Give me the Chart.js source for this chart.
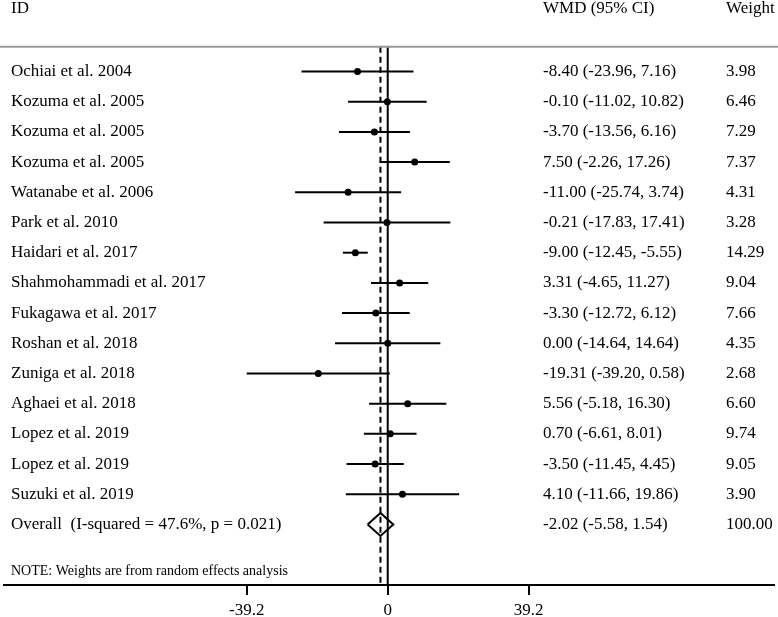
<!DOCTYPE html>
<html>
<head>
<meta charset="utf-8">
<script src="https://cdn.jsdelivr.net/npm/chart.js@4/dist/chart.umd.min.js"></script>
<style>
  html, body { margin: 0; padding: 0; background: #fff; }
  #wrap { width: 778px; height: 617px; position: relative; }
</style>
</head>
<body>
<div id="wrap"><canvas id="forestChart"></canvas></div>
<script>
// study data
const studies = [
    'Ochiai et al. 2004', 'Kozuma et al. 2005', 'Kozuma et al. 2005', 'Kozuma et al. 2005',
    'Watanabe et al. 2006', 'Park et al. 2010', 'Haidari et al. 2017', 'Shahmohammadi et al. 2017',
    'Fukagawa et al. 2017', 'Roshan et al. 2018', 'Zuniga et al. 2018', 'Aghaei et al. 2018',
    'Lopez et al. 2019', 'Lopez et al. 2019', 'Suzuki et al. 2019'
];
const wmd = [-8.40, -0.10, -3.70, 7.50, -11.00, -0.21, -9.00, 3.31, -3.30, 0.00, -19.31, 5.56, 0.70, -3.50, 4.10];
const lower = [-23.96, -11.02, -13.56, -2.26, -25.74, -17.83, -12.45, -4.65, -12.72, -14.64, -39.20, -5.18, -6.61, -11.45, -11.66];
const upper = [7.16, 10.82, 6.16, 17.26, 3.74, 17.41, -5.55, 11.27, 6.12, 14.64, 0.58, 16.30, 8.01, 4.45, 19.86];
const weights = [3.98, 6.46, 7.29, 7.37, 4.31, 3.28, 14.29, 9.04, 7.66, 4.35, 2.68, 6.60, 9.74, 9.05, 3.90];

const overallLabel = 'Overall  (I-squared = 47.6%, p = 0.021)';
const overallWmd = -2.02;
const overallLower = -5.58;
const overallUpper = 1.54;
const overallWeight = 100.00;

const xTicks = [-39.2, 0, 39.2];

const noteText = 'NOTE: Weights are from random effects analysis';

// row layout (in row units)
const overallRow = studies.length;
const headerRow = -0.82;
const noteRow = 16.55;
const yMin = -2.237;
const yMax = 17.006;
const xMin = -106.66;
const xMax = 107.37;

const FONT = '"Liberation Serif", "Times New Roman", serif';

function fmt(v) { return v.toFixed(2); }

const datasets = [];

// confidence interval lines
studies.forEach(function(name, i) {
    datasets.push({
        data: [{ x: lower[i], y: i }, { x: upper[i], y: i }],
        showLine: true,
        borderColor: '#000',
        borderWidth: 2,
        pointRadius: 0,
        clip: false
    });
});

// point estimates
datasets.push({
    data: wmd.map(function(v, i) { return { x: v, y: i }; }),
    pointRadius: 3.5,
    pointBackgroundColor: '#000',
    pointBorderColor: '#000',
    borderWidth: 0,
    clip: false
});

// line of no effect
datasets.push({
    data: [{ x: 0, y: headerRow }, { x: 0, y: yMax }],
    showLine: true,
    borderColor: '#000',
    borderWidth: 2,
    pointRadius: 0,
    clip: false
});

// overall effect (dashed)
datasets.push({
    data: [{ x: overallWmd, y: headerRow }, { x: overallWmd, y: yMax }],
    showLine: true,
    borderColor: '#000',
    borderWidth: 2,
    borderDash: [6, 4],
    pointRadius: 0,
    clip: false
});

// overall diamond
datasets.push({
    data: [
        { x: overallLower, y: overallRow },
        { x: overallWmd, y: overallRow - 0.38 },
        { x: overallUpper, y: overallRow },
        { x: overallWmd, y: overallRow + 0.38 },
        { x: overallLower, y: overallRow }
    ],
    showLine: true,
    borderColor: '#000',
    borderWidth: 2,
    pointRadius: 0,
    tension: 0,
    clip: false
});

// text columns and header rule
const textPlugin = {
    id: 'forestText',
    afterDraw: function(chart) {
        const c = chart.ctx;
        const ys = chart.scales.y;
        const colId = 11, colCi = 543, colW = 726;

        c.save();
        c.strokeStyle = '#999';
        c.lineWidth = 2;
        c.beginPath();
        const hy = ys.getPixelForValue(headerRow);
        c.moveTo(0, hy);
        c.lineTo(chart.width, hy);
        c.stroke();

        c.fillStyle = '#000';
        c.textBaseline = 'middle';
        c.textAlign = 'left';
        c.font = '17px ' + FONT;
        c.fillText('ID', colId, 9);
        c.fillText('WMD (95% CI)', colCi, 9);
        c.fillText('Weight', colW, 9);

        studies.forEach(function(name, i) {
            const y = ys.getPixelForValue(i);
            c.fillText(name, colId, y);
            c.fillText(fmt(wmd[i]) + ' (' + fmt(lower[i]) + ', ' + fmt(upper[i]) + ')', colCi, y);
            c.fillText(fmt(weights[i]), colW, y);
        });

        const oy = ys.getPixelForValue(overallRow);
        c.fillText(overallLabel, colId, oy);
        c.fillText(fmt(overallWmd) + ' (' + fmt(overallLower) + ', ' + fmt(overallUpper) + ')', colCi, oy);
        c.fillText(fmt(overallWeight), colW, oy);

        c.font = '14px ' + FONT;
        c.fillText(noteText, colId, ys.getPixelForValue(noteRow));
        c.restore();
    }
};

const ctx = document.getElementById('forestChart').getContext('2d');
new Chart(ctx, {
    type: 'scatter',
    data: { datasets: datasets },
    options: {
        responsive: true,
        maintainAspectRatio: false,
        animation: false,
        layout: { padding: 0 },
        plugins: {
            legend: { display: false },
            tooltip: { enabled: false }
        },
        scales: {
            x: {
                type: 'linear',
                min: xMin,
                max: xMax,
                afterBuildTicks: function(scale) {
                    scale.ticks = xTicks.map(function(v) { return { value: v }; });
                },
                afterFit: function(scale) {
                    scale.height = 32;
                    scale.paddingLeft = 0;
                    scale.paddingRight = 0;
                },
                ticks: {
                    color: '#000',
                    font: { family: FONT, size: 17 },
                    padding: 5,
                    callback: function(v) { return String(v); }
                },
                grid: {
                    drawOnChartArea: false,
                    drawTicks: true,
                    tickLength: 10,
                    color: '#000',
                    lineWidth: 2
                },
                border: { display: true, color: '#000', width: 2 }
            },
            y: {
                type: 'linear',
                display: false,
                reverse: true,
                min: yMin,
                max: yMax
            }
        }
    },
    plugins: [textPlugin]
});
</script>
</body>
</html>
